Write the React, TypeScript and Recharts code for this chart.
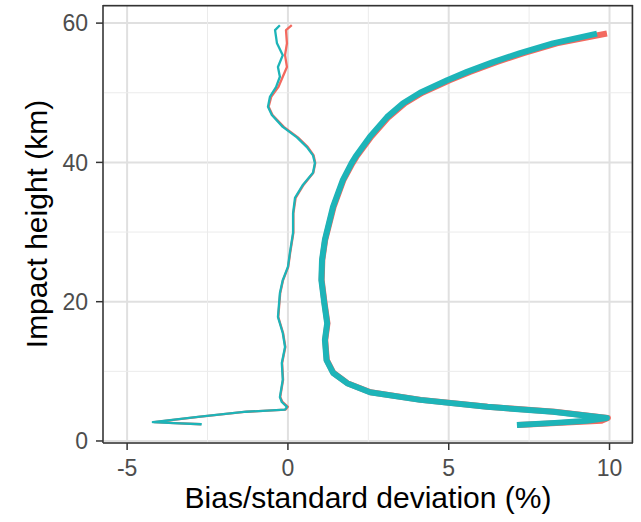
import { LineChart, Line, XAxis, YAxis, CartesianGrid, Label, ReferenceLine } from 'recharts';

const RED = '#F3695F';
const TEAL = '#1DB4B8';

// bias profile (thin lines)
const biasHeights = [
  59.7, 59.0, 57.1, 55.4, 53.7, 52.3, 50.8, 49.4, 48.0, 46.8, 45.1, 43.6, 42.2, 41.0, 39.9, 38.5,
  36.8, 34.9, 32.7, 29.9, 27.0, 25.0, 23.1, 21.2, 19.5, 17.8, 15.5, 13.5, 11.2, 8.8, 6.3, 5.6,
  4.9, 4.5, 4.2, 3.46, 2.7, 2.55, 2.4,
];
const biasRed = [
  0.12, -0.06, -0.03, -0.09, -0.03, -0.16, -0.3, -0.52, -0.6, -0.48, -0.13, 0.31, 0.62, 0.8, 0.85, 0.79,
  0.49, 0.24, 0.17, 0.17, 0.07, 0.01, -0.15, -0.24, -0.27, -0.3, -0.15, -0.08, -0.18, -0.15, -0.24, -0.17,
  0.0, -0.07, -1.28, -2.78, -4.15, -3.5, -2.7,
];
const biasTeal = [
  -0.25, -0.4, -0.34, -0.16, -0.31, -0.25, -0.37, -0.56, -0.62, -0.5, -0.16, 0.28, 0.59, 0.78, 0.84, 0.78,
  0.47, 0.22, 0.16, 0.16, 0.06, 0.0, -0.16, -0.25, -0.28, -0.31, -0.16, -0.09, -0.19, -0.16, -0.25, -0.19,
  -0.03, -0.09, -1.3, -2.8, -4.2, -3.55, -2.68,
];

// standard deviation profile (thick lines)
const sdHeights = [
  58.5, 57.1, 55.7, 54.4, 53.0, 51.8, 50.0, 48.5, 46.5, 43.7, 40.8, 39.9, 37.5, 33.6, 28.9, 26.0,
  23.1, 19.8, 16.9, 14.5, 11.6, 9.8, 8.3, 7.0, 5.9, 4.9, 4.2, 3.3, 2.9, 2.6, 2.3,
];
const sdRed = [
  9.92, 8.36, 7.33, 6.48, 5.66, 5.03, 4.18, 3.64, 3.13, 2.59, 2.13, 2.01, 1.73, 1.42, 1.16, 1.07,
  1.05, 1.14, 1.23, 1.16, 1.21, 1.41, 1.85, 2.57, 4.14, 6.22, 8.3, 9.95, 9.75, 8.5, 7.15,
];
const sdTeal = [
  9.61, 8.24, 7.22, 6.38, 5.57, 4.95, 4.11, 3.58, 3.08, 2.55, 2.1, 1.98, 1.71, 1.4, 1.15, 1.06,
  1.04, 1.13, 1.22, 1.15, 1.2, 1.4, 1.84, 2.55, 4.11, 6.19, 8.24, 9.92, 9.3, 8.3, 7.12,
];

const xTicks = [-5, 0, 5, 10];
const yTicks = [0, 20, 40, 60];
const xMinor = [-2.5, 2.5, 7.5];
const yMinor = [10, 30, 50];

const toRows = (hs: number[], xs: number[]) => hs.map((h, i) => ({ h, x: xs[i] }));

const FONT = '"Liberation Sans", Arial, Helvetica, sans-serif';
const X_DOMAIN: [number, number] = [-5.75, 10.73];
const Y_DOMAIN: [number, number] = [-0.29, 62.6];

export default function App() {
  return (
    <div style={{ position: 'absolute', left: 0, top: 0, background: '#fff' }}>
      <LineChart
        width={641}
        height={522}
        margin={{ top: 5, right: 8, left: 0, bottom: 0 }}
        style={{ fontFamily: FONT }}
      >
        <CartesianGrid stroke="#E0E0E0" strokeWidth={2} />
        {xMinor.map((v) => (
          <ReferenceLine key={`mx${v}`} x={v} stroke="#EBEBEB" strokeWidth={1} />
        ))}
        {yMinor.map((v) => (
          <ReferenceLine key={`my${v}`} y={v} stroke="#EBEBEB" strokeWidth={1} />
        ))}
        <XAxis
          dataKey="x"
          type="number"
          domain={X_DOMAIN}
          ticks={xTicks}
          allowDataOverflow
          height={79}
          tickSize={7}
          tickMargin={10}
          tick={{ fill: '#4D4D4D', fontSize: 23 }}
          tickLine={{ stroke: '#333', strokeWidth: 1.5 }}
          axisLine={{ stroke: '#333', strokeWidth: 1.5 }}
        >
          <Label
            content={({ viewBox }: any) => (
              <text
                x={viewBox.x + viewBox.width / 2}
                y={viewBox.y + 65}
                textAnchor="middle"
                fontSize={30}
                fill="#000"
              >
                Bias/standard deviation (%)
              </text>
            )}
          />
        </XAxis>
        <YAxis
          type="number"
          domain={Y_DOMAIN}
          ticks={yTicks}
          allowDataOverflow
          width={103}
          tickSize={7}
          tickMargin={8}
          tick={{ fill: '#4D4D4D', fontSize: 23 }}
          tickLine={{ stroke: '#333', strokeWidth: 1.5 }}
          axisLine={{ stroke: '#333', strokeWidth: 1.5 }}
        >
          <Label
            content={({ viewBox }: any) => {
              const cx = 47;
              const cy = viewBox.y + viewBox.height / 2;
              return (
                <text
                  x={cx}
                  y={cy}
                  transform={`rotate(-90, ${cx}, ${cy})`}
                  textAnchor="middle"
                  fontSize={30}
                  fill="#000"
                >
                  Impact height (km)
                </text>
              );
            }}
          />
        </YAxis>
        {/* panel border, top and right */}
        <ReferenceLine x={X_DOMAIN[1] - 0.02} stroke="#333" strokeWidth={1.5} />
        <ReferenceLine y={Y_DOMAIN[1] - 0.1} stroke="#333" strokeWidth={1.5} />
        <Line
          data={toRows(biasHeights, biasRed)}
          dataKey="h"
          type="linear"
          stroke={RED}
          strokeWidth={2.3}
          strokeLinejoin="round"
          dot={false}
          isAnimationActive={false}
        />
        <Line
          data={toRows(sdHeights, sdRed)}
          dataKey="h"
          type="linear"
          stroke={RED}
          strokeWidth={6}
          strokeLinejoin="round"
          dot={false}
          isAnimationActive={false}
        />
        <Line
          data={toRows(biasHeights, biasTeal)}
          dataKey="h"
          type="linear"
          stroke={TEAL}
          strokeWidth={2.3}
          strokeLinejoin="round"
          dot={false}
          isAnimationActive={false}
        />
        <Line
          data={toRows(sdHeights, sdTeal)}
          dataKey="h"
          type="linear"
          stroke={TEAL}
          strokeWidth={6}
          strokeLinejoin="round"
          dot={false}
          isAnimationActive={false}
        />
      </LineChart>
    </div>
  );
}
